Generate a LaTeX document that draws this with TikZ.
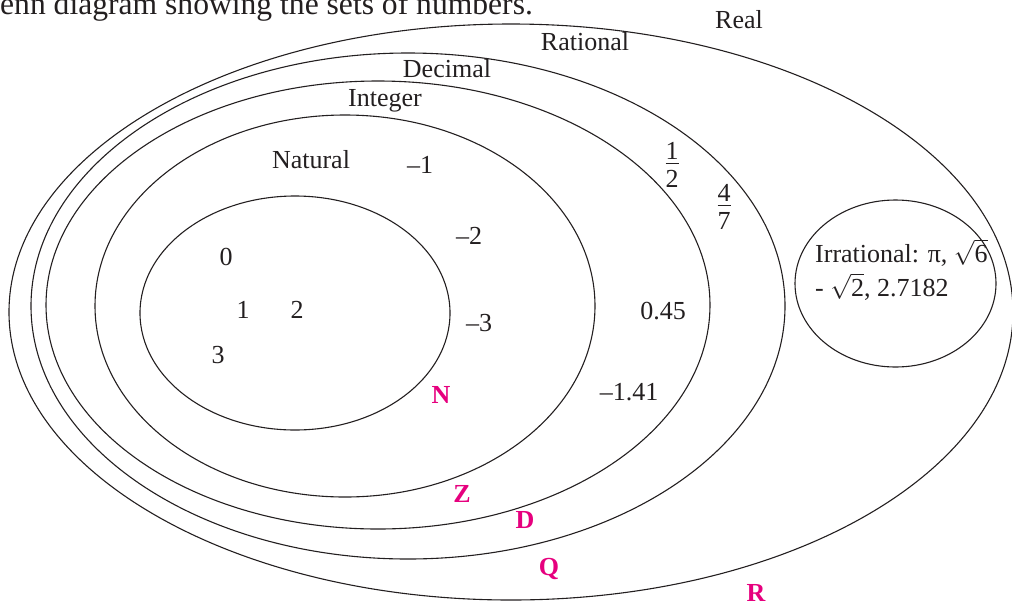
\documentclass[tikz,border=0pt]{standalone}
\usepackage{fontspec}
\setmainfont{Liberation Serif}
\usetikzlibrary{shapes.geometric}
\definecolor{lbl}{HTML}{231F20}
\definecolor{setpink}{HTML}{E6007E}
\newcommand\stackfrac[2]{\vbox{\hbox to 13pt{\hss#1\hss}\kern3.5pt\hrule height 0.9pt\kern6.5pt\hbox to 13pt{\hss#2\hss}}}
\tikzset{
  setline/.style={ellipse, draw=lbl, line width=1.1pt, inner sep=0pt},
  lab/.style={inner sep=0pt, anchor=base, text=lbl, font=\fontsize{26}{30}\selectfont},
  setname/.style={inner sep=0pt, anchor=base, text=setpink, font=\fontsize{26}{30}\selectfont\bfseries},
}
\begin{document}
\begin{tikzpicture}[x=1pt,y=-1pt]
\useasboundingbox (0,0) rectangle (1012,606);
\clip (0,0) rectangle (1012,606);
% sets
\node[setline, minimum width=1004pt, minimum height=576pt] (real) at (511,312) {};
\node[setline, minimum width=754pt, minimum height=506pt] (rational) at (408,306) {};
\node[setline, minimum width=664pt, minimum height=448pt] (decimal) at (378,305) {};
\node[setline, minimum width=500pt, minimum height=382pt] (integer) at (345,306) {};
\node[setline, minimum width=310pt, minimum height=234pt] (natural) at (295,313) {};
\node[setline, minimum width=201pt, minimum height=167pt] (irrational) at (895.5,283.5) {};
% title
\node[lab, anchor=base west, font=\fontsize{31.6}{36}\selectfont] (title) at (0,14) {enn diagram showing the sets of numbers.};
% set labels
\node[lab] (lreal) at (739,28) {Real};
\node[lab] (lrational) at (585,50) {Rational};
\node[lab] (ldecimal) at (447,77) {Decimal};
\node[lab] (linteger) at (385,106) {Integer};
\node[lab] (lnatural) at (311,168) {Natural};
% members
\node[lab] (m1) at (420,173) {–1};
\node[lab] (m2) at (469,244) {–2};
\node[lab] (m3) at (479,331) {–3};
\node[lab] (n0) at (226,265) {0};
\node[lab] (n1) at (243,318) {1};
\node[lab] (n2) at (297,318) {2};
\node[lab] (n3) at (218,363) {3};
\node[lab] (d045) at (663,319) {0.45};
\node[lab] (d141) at (629,400) {–1.41};
\node[lab, anchor=north] (half) at (672,142) {\stackfrac{1}{2}};
\node[lab, anchor=north] (fourseventh) at (724,184) {\stackfrac{4}{7}};
\node[lab, anchor=base west] (irr1) at (815,262) {Irrational: π, $\sqrt{\mbox{6}}$};
\node[lab, anchor=base west] (irr2) at (815,296) {- $\sqrt{\mbox{2}}$, 2.7182};
% set symbols
\node[setname] (sN) at (441,403) {N};
\node[setname] (sZ) at (462,502) {Z};
\node[setname] (sD) at (525,528) {D};
\node[setname] (sQ) at (549,575) {Q};
\node[setname] (sR) at (756,601) {R};
\end{tikzpicture}
\end{document}
